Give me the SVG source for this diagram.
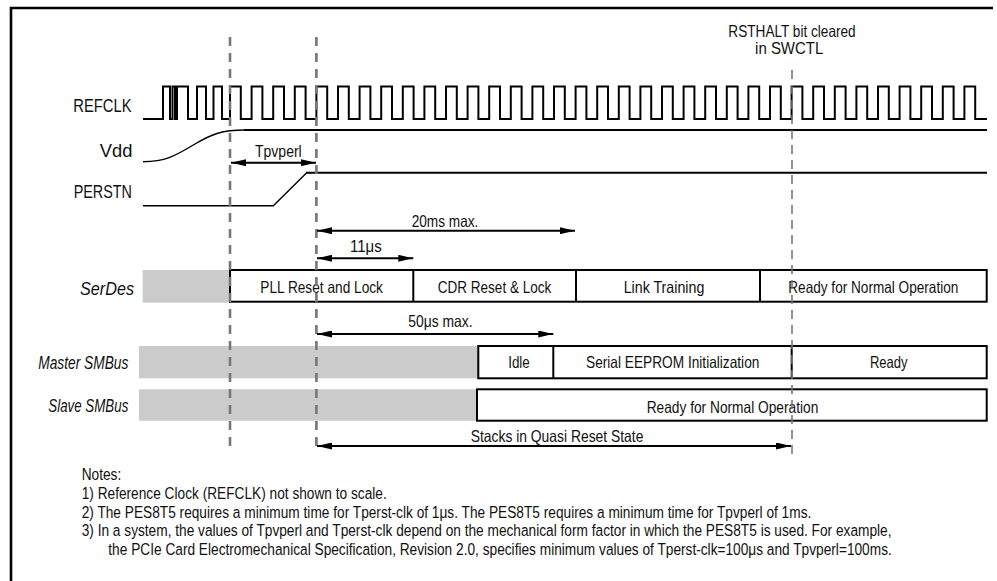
<svg xmlns="http://www.w3.org/2000/svg" width="997" height="581" viewBox="0 0 997 581">
<style>
text{font-family:"Liberation Sans",Arial,sans-serif;fill:#111}
.lbl{font-size:18px}
.it{font-size:18px;font-style:italic}
.t{font-size:16.5px}
.n{font-size:16.7px}
.sig{fill:none;stroke:#000;stroke-width:2}
.thin{fill:none;stroke:#000;stroke-width:1.4}
.box{fill:#fff;stroke:#000;stroke-width:2}
.gray{fill:#cbcbcb}
.dash{stroke:#777;stroke-width:2.6;stroke-dasharray:9 7;fill:none}
.dash2{stroke:#777;stroke-width:1.6;stroke-dasharray:9 6;fill:none}
.arr{stroke:#000;stroke-width:2;fill:none;marker-start:url(#ah);marker-end:url(#ah)}
</style>
<defs>
<marker id="ah" viewBox="0 0 15 7" refX="15" refY="3.5" markerWidth="15" markerHeight="7" markerUnits="userSpaceOnUse" orient="auto-start-reverse"><path d="M0,0 L15,3.5 L0,7 z" fill="#000"/></marker>
</defs>
<rect width="997" height="581" fill="#fff"/>
<path d="M11,581 V8 H993" fill="none" stroke="#000" stroke-width="2.6"/>

<g id="refclk">
<text class="lbl" x="73.3" y="111.5" textLength="58.3" lengthAdjust="spacingAndGlyphs">REFCLK</text>
<path class="sig" d="M143,119 H163 V86.5 H170 V119 H172.5 V86.5 H175 V119 H177 V86.5 H188 V119 H197 V86.5 H206 V119 H213.5 V86.5 H222 V119 H230 V86.5 H240.8 V119 H251.6 V86.5 H262.4 V119 H273.2 V86.5 H284 V119 H294.8 V86.5 H305.6 V119 H316.4 V86.5 H327.2 V119 H338 V86.5 H348.8 V119 H359.6 V86.5 H370.4 V119 H381.2 V86.5 H392 V119 H402.8 V86.5 H413.6 V119 H424.4 V86.5 H435.2 V119 H446 V86.5 H456.8 V119 H467.6 V86.5 H478.4 V119 H489.2 V86.5 H500 V119 H510.8 V86.5 H521.6 V119 H532.4 V86.5 H543.2 V119 H554 V86.5 H564.8 V119 H575.6 V86.5 H586.4 V119 H597.2 V86.5 H608 V119 H618.8 V86.5 H629.6 V119 H640.4 V86.5 H651.2 V119 H662 V86.5 H672.8 V119 H683.6 V86.5 H694.4 V119 H705.2 V86.5 H716 V119 H726.8 V86.5 H737.6 V119 H748.4 V86.5 H759.2 V119 H770 V86.5 H780.8 V119 H791.6 V86.5 H802.4 V119 H813.2 V86.5 H824 V119 H834.8 V86.5 H845.6 V119 H856.4 V86.5 H867.2 V119 H878 V86.5 H888.8 V119 H899.6 V86.5 H910.4 V119 H921.2 V86.5 H932 V119 H942.8 V86.5 H953.6 V119 H964.4 V86.5 H975.2 V119 H987"/>
</g>

<g id="vdd">
<text class="lbl" x="132.5" y="157" text-anchor="end" textLength="32.7" lengthAdjust="spacingAndGlyphs">Vdd</text>
<path class="thin" d="M143,161.7 C165,161.7 175,156 195,144 C212,134 222,130 245,130"/>
<path class="sig" d="M244,130 H987"/>
</g>

<g id="perstn">
<text class="lbl" x="132" y="198" text-anchor="end" textLength="58.3" lengthAdjust="spacingAndGlyphs">PERSTN</text>
<path class="thin" d="M143,205.7 H273.3 L306.7,172.7"/>
<path class="sig" d="M306,172.7 H987"/>
</g>

<g id="rsthalt">
<text class="t" x="792" y="36.7" text-anchor="middle" textLength="127.3" lengthAdjust="spacingAndGlyphs">RSTHALT bit cleared</text>
<text class="t" x="789.2" y="54" text-anchor="middle" textLength="68.3" lengthAdjust="spacingAndGlyphs">in SWCTL</text>
</g>

<g id="serdes">
<text class="it" x="134" y="295" text-anchor="end" textLength="54" lengthAdjust="spacingAndGlyphs">SerDes</text>
<rect class="gray" x="142.7" y="270" width="87.3" height="32.7"/>
<rect class="box" x="230" y="270" width="756.7" height="31.7"/>
<path d="M413.3,270 V301.7 M576,270 V301.7 M760,270 V301.7" stroke="#000" stroke-width="2"/>
<text class="t" x="321.6" y="293.3" text-anchor="middle" textLength="122.7" lengthAdjust="spacingAndGlyphs">PLL Reset and Lock</text>
<text class="t" x="494.5" y="293.3" text-anchor="middle" textLength="113.5" lengthAdjust="spacingAndGlyphs">CDR Reset &amp; Lock</text>
<text class="t" x="664" y="293.3" text-anchor="middle" textLength="80.7" lengthAdjust="spacingAndGlyphs">Link Training</text>
<text class="t" x="873.3" y="293.3" text-anchor="middle" textLength="170" lengthAdjust="spacingAndGlyphs">Ready for Normal Operation</text>
</g>

<g id="master-smbus">
<text class="it" x="128.3" y="369.3" text-anchor="end" textLength="90" lengthAdjust="spacingAndGlyphs">Master SMBus</text>
<rect class="gray" x="139" y="346" width="339.3" height="32.3"/>
<rect class="box" x="478.3" y="346" width="508.4" height="32.3"/>
<path d="M553.3,346 V378.3 M791.7,346 V378.3" stroke="#000" stroke-width="2"/>
<text class="t" x="519" y="368.3" text-anchor="middle" textLength="21.7" lengthAdjust="spacingAndGlyphs">Idle</text>
<text class="t" x="672.7" y="368.3" text-anchor="middle" textLength="173.3" lengthAdjust="spacingAndGlyphs">Serial EEPROM Initialization</text>
<text class="t" x="888.8" y="368.3" text-anchor="middle" textLength="37.7" lengthAdjust="spacingAndGlyphs">Ready</text>
</g>

<g id="slave-smbus">
<text class="it" x="128.3" y="411.7" text-anchor="end" textLength="80" lengthAdjust="spacingAndGlyphs">Slave SMBus</text>
<rect class="gray" x="139" y="389.3" width="338" height="31.4"/>
<rect class="box" x="477" y="389.3" width="509.7" height="31.4"/>
<text class="t" x="732.5" y="413.3" text-anchor="middle" textLength="171.7" lengthAdjust="spacingAndGlyphs">Ready for Normal Operation</text>
</g>

<g id="markers-dashed">
<path class="dash" d="M230,37 V448 M316.4,37 V448"/>
<path class="dash2" d="M792,70 V455"/>
</g>

<g id="connectors">
<path class="arr" d="M231,162.7 H316"/>
<path class="arr" d="M317,230.7 H575"/>
<path class="arr" d="M317,258.3 H413.3"/>
<path class="arr" d="M317,334 H553.3"/>
<path class="arr" d="M317,446 H791"/>
</g>

<g id="dimension-labels">
<text class="t" x="255" y="157" textLength="46.7" lengthAdjust="spacingAndGlyphs">Tpvperl</text>
<text class="t" x="411.7" y="226.5" textLength="66.7" lengthAdjust="spacingAndGlyphs">20ms max.</text>
<text class="t" x="350" y="251.7" textLength="31.7" lengthAdjust="spacingAndGlyphs">11μs</text>
<text class="t" x="408.3" y="326.7" textLength="64.3" lengthAdjust="spacingAndGlyphs">50μs max.</text>
<text class="t" x="470.7" y="441.7" textLength="172.7" lengthAdjust="spacingAndGlyphs">Stacks in Quasi Reset State</text>
</g>

<g id="notes" transform="scale(0.82,1)">
<text class="n" x="99.6" y="480">Notes:</text>
<text class="n" x="99.6" y="499">1) Reference Clock (REFCLK) not shown to scale.</text>
<text class="n" x="99.6" y="517.7">2) The PES8T5 requires a minimum time for Tperst-clk of 1μs. The PES8T5 requires a minimum time for Tpvperl of 1ms.</text>
<text class="n" x="99.6" y="536.3">3) In a system, the values of Tpvperl and Tperst-clk depend on the mechanical form factor in which the PES8T5 is used. For example,</text>
<text class="n" x="132.1" y="555">the PCIe Card Electromechanical Specification, Revision 2.0, specifies minimum values of Tperst-clk=100μs and Tpvperl=100ms.</text>
</g>
</svg>
